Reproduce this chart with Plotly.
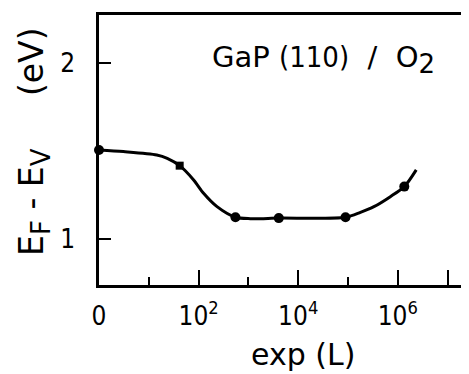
import plotly.graph_objects as go

# exposure in decades (log10 L, "0" plotted at 10^0) and E_F - E_V (eV)
pts_x = [0.0, 2.74, 3.61, 4.95, 6.13]
pts_y = [1.507, 1.125, 1.12, 1.125, 1.299]
sq_x = [1.62]
sq_y = [1.418]
curve_x = [0.0, 0.49, 1.16, 1.37, 1.62, 1.90, 2.10, 2.37, 2.74, 3.04, 3.61, 4.95, 5.25, 5.52, 5.85, 6.13, 6.37]
curve_y = [1.507, 1.498, 1.479, 1.46, 1.418, 1.337, 1.261, 1.185, 1.125, 1.117, 1.12, 1.125, 1.153, 1.185, 1.242, 1.299, 1.394]
xtick_vals = [0, 2, 4, 6, 7]
xtick_text = ["0", "10<sup>2</sup>", "10<sup>4</sup>", "10<sup>6</sup>", ""]
xminor_vals = [1, 3, 5]
ytick_vals = [1, 2]
ytick_text = ["1", "2"]

NB = "\u00a0"
TICKFONT = "DejaVu Sans Condensed, DejaVu Sans"
FONT = "DejaVu Sans"
fig = go.Figure()
fig.add_trace(go.Scatter(x=curve_x, y=curve_y, mode="lines",
                         line=dict(color="black", width=3, shape="spline", smoothing=0.8),
                         hoverinfo="skip", cliponaxis=False))
fig.add_trace(go.Scatter(x=pts_x, y=pts_y, mode="markers",
                         marker=dict(color="black", size=10, symbol="circle"), cliponaxis=False))
fig.add_trace(go.Scatter(x=sq_x, y=sq_y, mode="markers",
                         marker=dict(color="black", size=8, symbol="square"), cliponaxis=False))

title_text = ("GaP" + NB +
              "<span style='font-family:\"Liberation Sans Narrow\", \"DejaVu Sans Condensed\"'>(110)</span>" +
              NB * 2 + "/" + NB * 2 + "O" +
              "<sub><span style='font-size:26px'>2</span></sub>")
ytitle_text = ("E<sub><span style='font-size:26px'>F</span></sub>" + NB + "-" + NB +
               "E<sub><span style='font-size:26px'>V</span></sub>" + NB * 5 + "(eV)")

fig.update_layout(
    width=469, height=374,
    margin=dict(l=91, r=0, t=7, b=97),
    paper_bgcolor="white", plot_bgcolor="white",
    showlegend=False,
    font=dict(family=FONT, size=26, color="black"),
    xaxis=dict(range=[0, 7.59], showgrid=False, zeroline=False,
               showline=True, linecolor="black", linewidth=2.5, mirror=True,
               ticks="inside", ticklen=15, tickwidth=2, tickcolor="black",
               tickmode="array", tickvals=xtick_vals, ticktext=xtick_text,
               ticklabelstandoff=6, tickfont=dict(family=TICKFONT, size=26),
               minor=dict(tickmode="array", tickvals=xminor_vals, ticks="inside",
                          ticklen=8, tickwidth=2, tickcolor="black")),
    yaxis=dict(range=[0.74, 2.274], showgrid=False, zeroline=False,
               showline=True, linecolor="black", linewidth=2.5, mirror=False,
               ticks="inside", ticklen=12, tickwidth=2, tickcolor="black",
               tickmode="array", tickvals=ytick_vals, ticktext=ytick_text,
               ticklabelstandoff=16, tickfont=dict(family=TICKFONT, size=26)),
    annotations=[
        dict(text=title_text, xref="paper", yref="paper",
             x=0.594, y=0.835, xanchor="center", yanchor="middle", showarrow=False,
             font=dict(size=29)),
        dict(text=ytitle_text, xref="paper", yref="paper",
             x=-0.172, y=0.53, xanchor="center", yanchor="middle", showarrow=False,
             textangle=-90, font=dict(size=33)),
        dict(text="exp (L)", xref="paper", yref="paper",
             x=0.540, y=-0.259, xanchor="center", yanchor="middle", showarrow=False,
             font=dict(size=30)),
    ],
)
fig.write_html("out.html")
